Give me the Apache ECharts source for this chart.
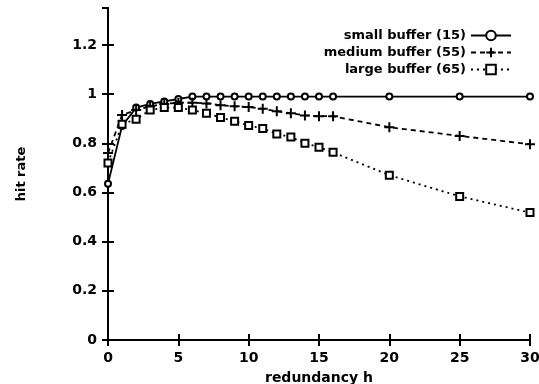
<!DOCTYPE html>
<html>
<head>
<meta charset="utf-8">
<script src="https://cdn.jsdelivr.net/npm/echarts@6/dist/echarts.min.js"></script>
<style>
  html, body { margin: 0; padding: 0; background: #fff; }
  #chart { width: 539px; height: 384px; }
</style>
</head>
<body>
<div id="chart"></div>
<script>
// redundancy h values (x)
var redundancy = [0, 1, 2, 3, 4, 5, 6, 7, 8, 9, 10, 11, 12, 13, 14, 15, 16, 20, 25, 30];

// hit rate for each buffer size
var smallBuffer = [0.635, 0.87, 0.945, 0.96, 0.97, 0.98, 0.99, 0.99, 0.99, 0.99, 0.99, 0.99, 0.99, 0.99, 0.99, 0.99, 0.99, 0.99, 0.99, 0.99];
var mediumBuffer = [0.76, 0.915, 0.935, 0.95, 0.96, 0.965, 0.965, 0.962, 0.955, 0.95, 0.947, 0.94, 0.93, 0.922, 0.913, 0.91, 0.91, 0.865, 0.83, 0.796];
var largeBuffer = [0.72, 0.877, 0.898, 0.935, 0.945, 0.945, 0.935, 0.922, 0.905, 0.89, 0.872, 0.86, 0.838, 0.825, 0.80, 0.784, 0.763, 0.67, 0.584, 0.518];

var seriesNames = ['small buffer (15)', 'medium buffer (55)', 'large buffer (65)'];

function pairs(ys) {
  return redundancy.map(function (x, i) { return [x, ys[i]]; });
}

var font = 'DejaVu Sans, Verdana, sans-serif';
var plusPath = 'path://M4,0H6V4H10V6H6V10H4V6H0V4H4Z';

var chart = echarts.init(document.getElementById('chart'), null, { renderer: 'canvas' });

var axisCommon = {
  axisLine: { show: true, lineStyle: { color: '#000', width: 2 } },
  axisTick: { show: true, inside: true, length: 6, lineStyle: { color: '#000', width: 2 } },
  splitLine: { show: false }
};

var labelStyle = { color: '#000', fontSize: 14, fontFamily: font, fontWeight: 'bold' };

chart.setOption({
  animation: false,
  backgroundColor: '#fff',
  textStyle: { fontFamily: font, color: '#000' },
  grid: { left: 108, right: 9, top: 8, bottom: 44, outerBoundsMode: 'none', containLabel: false },
  legend: {
    orient: 'vertical',
    right: 22,
    top: 24,
    align: 'right',
    itemWidth: 40,
    itemHeight: 12,
    itemGap: 4,
    textStyle: { fontFamily: font, fontSize: 13, fontWeight: 'bold', color: '#000' },
    data: seriesNames
  },
  xAxis: [
    Object.assign({
      type: 'value', min: 0, max: 30, interval: 5,
      name: 'redundancy h', nameLocation: 'middle', nameGap: 31,
      nameTextStyle: labelStyle,
      axisLabel: Object.assign({ margin: 11 }, labelStyle)
    }, axisCommon),
    Object.assign({
      type: 'value', min: 0, max: 30, interval: 5, position: 'top',
      axisLabel: { show: false }
    }, axisCommon)
  ],
  yAxis: [
    Object.assign({
      type: 'value', min: 0, max: 1.35, interval: 0.2,
      name: 'hit rate', nameLocation: 'middle', nameGap: 80,
      nameTextStyle: Object.assign({}, labelStyle, { fontSize: 13 }),
      axisLabel: Object.assign({ margin: 11, showMaxLabel: false }, labelStyle)
    }, axisCommon),
    Object.assign({
      type: 'value', min: 0, max: 1.35, interval: 0.2, position: 'right',
      axisLabel: { show: false }
    }, axisCommon)
  ],
  series: [
    {
      name: seriesNames[0], type: 'line', data: pairs(smallBuffer),
      symbol: 'emptyCircle', symbolSize: 6,
      itemStyle: { color: '#000', borderWidth: 1.5 },
      lineStyle: { color: '#000', width: 1.8, type: 'solid' }
    },
    {
      name: seriesNames[1], type: 'line', data: pairs(mediumBuffer),
      symbol: plusPath, symbolSize: 10,
      itemStyle: { color: '#000' },
      lineStyle: { color: '#000', width: 1.8, type: [5, 4] }
    },
    {
      name: seriesNames[2], type: 'line', data: pairs(largeBuffer),
      symbol: 'emptyRect', symbolSize: 7,
      itemStyle: { color: '#000', borderWidth: 1.8 },
      lineStyle: { color: '#000', width: 1.8, type: [2, 4] }
    }
  ]
});
</script>
</body>
</html>
